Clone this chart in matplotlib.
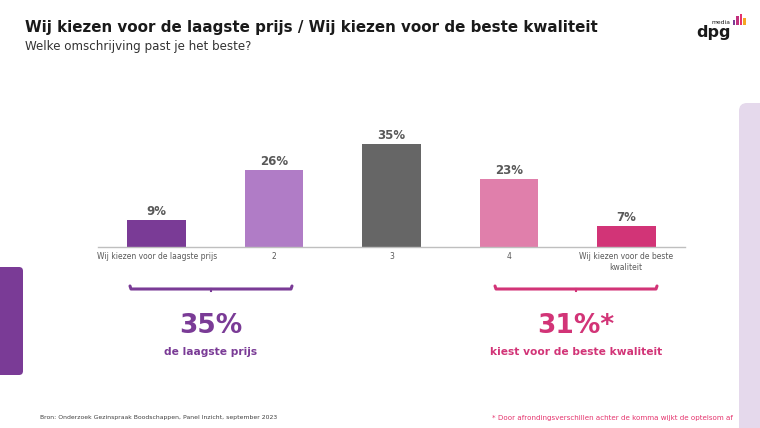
import numpy as np
import matplotlib
matplotlib.use("Agg")
import matplotlib.pyplot as plt
from matplotlib.patches import FancyBboxPatch, Rectangle

# Data
categories = ["Wij kiezen voor de laagste prijs", "2", "3", "4", "Wij kiezen voor de beste\nkwaliteit"]
values = [9, 26, 35, 23, 7]
bar_colors = ["#7a3b96", "#b07cc6", "#666666", "#e07fab", "#d23477"]

summary_values = ["35%", "31%*"]
summary_labels = ["de laagste prijs", "kiest voor de beste kwaliteit"]
summary_colors = ["#7a3b96", "#d23477"]

W, H = 760, 428
fig = plt.figure(figsize=(W / 100, H / 100), dpi=100)
fig.patch.set_facecolor("white")

# overlay axes in pixel coordinates for decorations
deco = fig.add_axes([0, 0, 1, 1])
deco.set_xlim(0, W)
deco.set_ylim(H, 0)
deco.axis("off")

# right lilac panel and left purple tab
deco.add_patch(FancyBboxPatch((739, 103), 40, 340, boxstyle="round,pad=0,rounding_size=8",
                              fc="#e5d9ec", ec="none"))
deco.add_patch(FancyBboxPatch((-10, 267), 33, 108, boxstyle="round,pad=0,rounding_size=4",
                              fc="#7a3b96", ec="none"))

# title
deco.text(25, 27, "Wij kiezen voor de laagste prijs / Wij kiezen voor de beste kwaliteit",
          fontsize=10.9, fontweight="bold", color="#1a1a1a", va="center", ha="left")
deco.text(25, 46, "Welke omschrijving past je het beste?",
          fontsize=8.6, color="#333333", va="center", ha="left")

# logo
deco.text(713.5, 32, "dpg", fontsize=11.5, fontweight="bold", color="#1a1a1a",
          ha="center", va="center")
deco.text(721, 22, "media", fontsize=4.3, color="#1a1a1a", ha="center", va="center")
logo_cols = ["#7a3b96", "#c2307e", "#e5336d", "#f5a623"]
logo_h = [5, 9, 11, 7]
for i, (c, h) in enumerate(zip(logo_cols, logo_h)):
    deco.add_patch(Rectangle((732.5 + i * 3.6, 24.5 - h), 2.6, h, fc=c, ec="none"))

# bar chart
left, right, bottom_px, top_px = 98, 685, 246.7, 99.7
ax = fig.add_axes([left / W, 1 - bottom_px / H, (right - left) / W, (bottom_px - top_px) / H])
x = np.arange(len(categories))
bars = ax.bar(x, values, width=0.5, color=bar_colors, zorder=2)
ax.set_xlim(-0.5, 4.5)
ax.set_ylim(0, 50)
for b, v in zip(bars, values):
    ax.text(b.get_x() + b.get_width() / 2, v + 0.6, f"{v}%", ha="center", va="bottom",
            fontsize=8.5, fontweight="bold", color="#595959")
ax.set_xticks(x)
ax.set_xticklabels(categories, fontsize=5.5, color="#595959", linespacing=1.2)
ax.tick_params(axis="x", length=0, pad=4)
ax.set_yticks([])
for s in ["top", "left", "right"]:
    ax.spines[s].set_visible(False)
ax.spines["bottom"].set_color("#bfbfbf")
ax.spines["bottom"].set_linewidth(1)
ax.patch.set_alpha(0)

# brackets and summaries
brackets = [(130, 292), (495, 657)]
for (x0, x1), val, lab, col in zip(brackets, summary_values, summary_labels, summary_colors):
    y = 289
    deco.plot([x0, x0 + 1, x1 - 1, x1], [y - 3, y, y, y - 3], color=col, lw=2.2,
              solid_capstyle="round", solid_joinstyle="round")
    mid = (x0 + x1) / 2
    deco.plot([mid, mid], [y, y + 2], color=col, lw=1.5)
    deco.text(mid, 326, val, fontsize=19, fontweight="bold", color=col, ha="center", va="center")
    deco.text(mid, 352, lab, fontsize=7.7, fontweight="bold", color=col, ha="center", va="center")

# footer
deco.text(40, 418, "Bron: Onderzoek Gezinspraak Boodschappen, Panel Inzicht, september 2023",
          fontsize=4.4, color="#404040", ha="left", va="center")
deco.text(733, 418, "* Door afrondingsverschillen achter de komma wijkt de optelsom af",
          fontsize=5.15, color="#e5336d", ha="right", va="center")

fig.savefig("out.png", dpi=100)
